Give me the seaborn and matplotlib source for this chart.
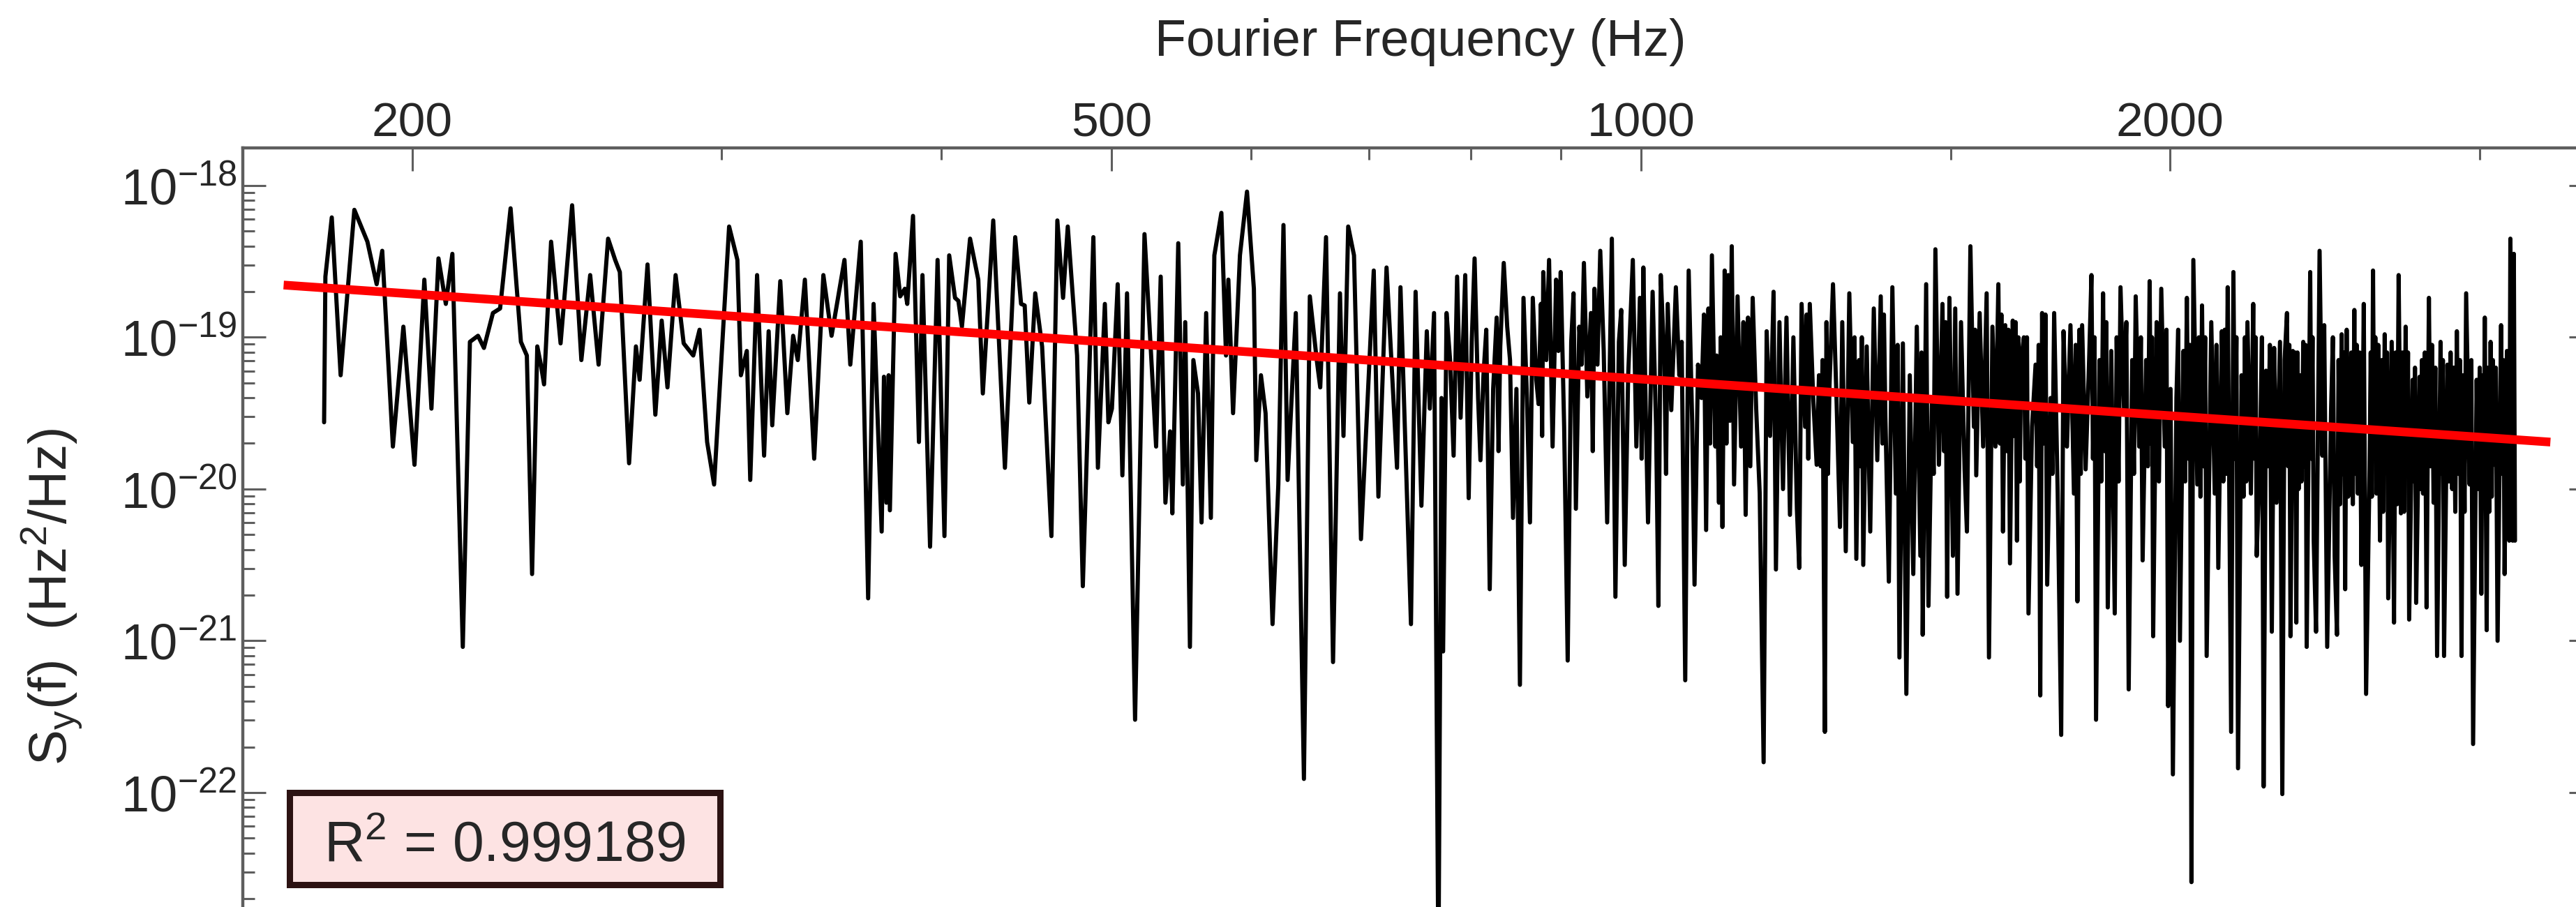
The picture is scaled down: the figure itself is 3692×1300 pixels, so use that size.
import numpy as np
import pandas as pd
import matplotlib
matplotlib.use("Agg")
import matplotlib.pyplot as plt
from matplotlib.patches import Rectangle
from matplotlib.ticker import FixedLocator, FixedFormatter, LogLocator, NullFormatter
import seaborn as sns

# Fourier frequency of each spectrum sample (Hz): resolved peaks and dips
freq_hz = [
    178.2, 178.5, 180.0, 182.1, 185.4, 188.6, 190.9, 192.3, 195.0, 197.7,
    200.6, 203.2, 205.1, 207.0, 209.0, 210.8, 213.7, 215.7, 218.0, 219.7,
    222.3, 224.4, 227.5, 230.6, 232.4, 234.0, 235.6, 236.7, 237.7, 239.9,
    242.9, 246.6, 249.6, 252.5, 255.3,
    258.5, 260.9, 262.5, 265.7, 268.1, 269.4, 272.2, 275.0, 277.3, 279.4,
    282.4, 285.4, 289.0, 291.4, 294.3, 297.0, 302.9, 306.2, 307.6, 310.0,
    311.4, 314.2, 317.1, 319.0, 320.5, 323.9, 326.9, 329.4, 331.4, 334.5,
    338.6, 342.7, 346.4, 352.3, 355.0, 359.9, 363.4, 366.0,
    369.9, 371.0, 372.2, 373.3, 373.9, 376.7, 379.0, 381.3, 382.5, 385.4,
    388.4, 390.2, 394.1, 398.0, 401.6, 404.1, 407.2, 409.0, 410.9, 415.3,
    419.8, 422.3, 428.1, 434.7, 440.6, 444.0, 446.1, 448.8, 452.3, 456.4,
    462.0, 465.6, 469.1, 472.0, 477.8, 481.4, 488.1, 491.0, 495.5, 497.8,
    500.1, 503.9, 507.0, 510.1, 515.5, 521.9,
    529.9, 533.1, 536.4, 539.7, 541.3, 545.5, 548.8, 550.5, 553.9, 556.4,
    559.8, 562.4, 565.8, 569.3, 571.9, 577.2, 580.7, 582.5, 586.1, 591.4,
    596.9, 602.3, 604.2, 607.9, 611.6, 617.2, 621.9, 626.1, 629.5, 636.3,
    643.1, 648.1, 654.0, 657.0, 662.0, 668.1, 674.2, 677.3, 681.5, 686.7,
    693.0, 704.7, 709.0, 716.6, 726.5, 729.8, 739.9, 744.4, 750.1, 755.4,
    758.4, 762.6,
    767.0, 770.1, 771.7, 775.2, 778.8, 782.4, 786.0, 789.6, 794.4, 798.0,
    801.2, 804.2, 807.9, 810.4, 813.6, 816.6, 820.3, 824.0, 827.8, 831.7,
    835.5, 839.3, 842.4, 845.7, 849.5, 853.4, 857.4, 861.3, 864.7, 867.9,
    871.9, 874.5, 877.2, 879.9, 883.4, 886.6, 890.7, 894.8, 897.5, 900.2,
    904.3, 908.5, 912.7, 915.5, 918.3, 922.4, 925.2, 928.0, 932.2, 936.6,
    940.9, 944.6, 948.1, 952.4, 956.7, 962.6, 967.1, 971.5, 974.5, 979.0,
    983.4, 989.4, 994.0, 998.6, 1003.2, 1006.2, 1009.3, 1015.4, 1020.0, 1023.1,
    1026.3, 1031.0, 1035.7, 1040.5, 1046.8, 1051.5, 1054.8, 1059.7, 1064.5, 1069.4,
    1072.7, 1077.6, 1082.5, 1089.1, 1092.4, 1097.4, 1102.4,
    1104.2, 1107.6, 1112.6, 1115.9, 1121.1, 1126.3, 1129.7, 1134.9, 1140.1, 1147.0,
    1150.5, 1157.6, 1162.9, 1168.3, 1174.3, 1179.0, 1184.3, 1189.7, 1193.4, 1198.9,
    1204.5, 1210.0, 1215.5, 1221.0, 1226.6, 1230.4, 1234.2, 1239.9, 1247.5, 1253.1,
    1258.8, 1262.6, 1268.5, 1272.4, 1280.2, 1286.0, 1291.9, 1297.8, 1301.7, 1307.7,
    1313.8, 1319.8, 1325.9, 1330.7, 1338.0, 1344.1, 1350.3, 1356.6, 1362.8, 1369.0,
    1377.4, 1383.6, 1390.0, 1396.4, 1402.9, 1409.3, 1415.7, 1422.1, 1428.6, 1435.2,
    1441.9, 1446.3, 1452.9, 1457.3, 1464.0, 1470.6, 1477.4, 1484.3, 1493.4, 1497.9,
    1504.7, 1509.3, 1513.8, 1520.8, 1527.9, 1532.6, 1539.6, 1546.6, 1551.4, 1558.4,
    1565.5, 1572.7, 1577.5, 1584.7, 1591.0,
    1597.0, 1606.7, 1611.5, 1621.5, 1627.4, 1636.4, 1645.4, 1651.3, 1661.3, 1669.0,
    1676.8, 1687.1, 1691.2, 1702.5, 1710.2, 1718.1, 1726.1, 1734.0, 1739.3, 1747.2,
    1755.2, 1763.2, 1771.3, 1782.2, 1790.4, 1798.6, 1804.1, 1815.0, 1823.3, 1831.8,
    1843.1, 1851.5, 1860.0, 1874.1, 1882.7, 1894.3, 1903.0, 1911.8, 1920.5, 1929.2,
    1938.0, 1947.0, 1956.0, 1964.9, 1976.9, 1985.9, 1994.9, 2001.1, 2007.2, 2016.5,
    2025.8, 2035.0, 2044.3, 2056.6, 2061.7, 2072.5, 2085.3, 2098.0, 2110.7, 2120.3,
    2130.2, 2140.1, 2156.6, 2166.3, 2172.8, 2186.0, 2196.2, 2213.1, 2223.2, 2230.0,
    2240.2, 2250.3, 2260.6, 2267.6, 2284.9, 2291.8,
    2299.1, 2309.5, 2316.5, 2323.5, 2330.7, 2341.5, 2348.6, 2359.4, 2370.2, 2380.9,
    2391.7, 2402.7, 2413.8, 2421.2, 2432.4, 2441.2, 2447.2, 2456.8, 2469.4, 2480.9,
    2488.5, 2503.8, 2515.3, 2530.5, 2545.8, 2557.6, 2569.4, 2577.3, 2585.2, 2597.0,
    2608.8, 2620.7, 2632.7, 2649.0, 2661.2, 2673.4, 2681.5, 2697.8, 2705.9, 2722.7,
    2735.2, 2747.8, 2760.4, 2772.9, 2785.5, 2798.3, 2806.9, 2824.2, 2837.2, 2850.1,
    2863.1, 2876.0, 2893.8, 2911.6, 2929.4, 2947.2, 2960.6, 2974.2, 2988.0, 3006.4,
    3020.1, 3027.5, 3043.1, 3056.9, 3071.1, 3085.2, 3099.4, 3108.8, 3118.3, 3123.0,
    3132.4, 3137.2, 3141.9,
]

# log10 of the one-sided PSD S_y(f) in Hz^2/Hz, one entry per frequency above
psd_log10 = [
    -19.56, -18.60, -18.21, -19.25, -18.16, -18.37, -18.65, -18.43, -19.72, -18.93,
    -19.84, -18.62, -19.47, -18.48, -18.78, -18.45, -21.04, -19.03, -18.99, -19.07,
    -18.84, -18.81, -18.15, -19.03, -19.12, -20.56, -19.06, -19.18, -19.31, -18.37,
    -19.04, -18.13, -19.15, -18.59, -19.18,
    -18.35, -18.49, -18.57, -19.83, -19.06, -19.28, -18.52, -19.51, -18.89, -19.33,
    -18.59, -19.04, -19.12, -18.95, -19.69, -19.97, -18.27, -18.49, -19.25, -19.09,
    -19.94, -18.59, -19.78, -18.96, -19.58, -18.63, -19.50, -18.99, -19.15, -18.62,
    -19.80, -18.59, -18.99, -18.49, -19.18, -18.37, -20.72, -18.78,
    -20.28, -19.26, -20.09, -19.25, -20.14, -18.45, -18.73, -18.68, -18.78, -18.20,
    -19.69, -18.59, -20.38, -18.49, -20.31, -18.46, -18.74, -18.76, -18.93, -18.35,
    -18.62, -19.37, -18.23, -19.86, -18.34, -18.78, -18.79, -19.43, -18.71, -19.06,
    -20.31, -18.23, -18.74, -18.27, -19.12, -20.64, -18.34, -19.86, -18.78, -19.56,
    -19.47, -18.65, -19.91, -18.71, -21.52, -18.32,
    -19.72, -18.60, -20.09, -19.62, -20.16, -18.38, -19.97, -18.90, -21.04, -19.15,
    -19.37, -20.22, -18.84, -20.19, -18.46, -18.18, -19.12, -18.62, -19.50, -18.46,
    -18.04, -18.68, -19.81, -19.25, -19.50, -20.89, -19.97, -18.26, -19.94, -18.84,
    -21.91, -18.73, -19.15, -19.33, -18.34, -21.14, -18.71, -19.65, -18.27, -18.46,
    -20.33, -18.56, -20.05, -18.54, -19.86, -18.67, -20.89, -18.70, -20.11, -18.96,
    -19.47, -18.84,
    -23.20, -19.40, -21.07, -18.84, -19.15, -19.78, -18.60, -19.53, -18.59, -20.06,
    -19.03, -18.48, -19.40, -19.81, -19.25, -18.95, -20.66, -19.34, -18.87, -19.06,
    -18.51, -18.93, -19.15, -20.19, -19.34, -21.29, -18.74, -19.40, -20.22, -18.74,
    -19.28, -19.44, -18.78, -18.57, -19.15, -18.49, -19.72, -18.62, -19.09, -18.57,
    -19.59, -21.13, -19.03, -18.71, -20.13, -18.93, -19.18, -18.51, -19.39, -18.84,
    -18.68, -19.18, -18.43, -19.09, -20.22, -18.35, -20.71, -19.03, -18.82, -20.50,
    -19.25, -18.49, -19.72, -18.74, -18.54, -19.47, -20.22, -18.70, -19.59, -20.77,
    -18.59, -19.15, -18.78, -19.48, -18.67, -19.25, -19.03, -21.26, -18.56, -19.56,
    -20.63, -19.18, -19.40, -20.27, -18.81, -18.46, -19.72,
    -19.12, -20.09, -20.25, -18.56, -18.59, -18.40, -19.97, -18.73, -19.72, -20.17,
    -18.87, -18.74, -19.47, -20.03, -21.80, -18.96, -19.65, -18.70, -20.53, -18.90,
    -20.00, -18.87, -20.17, -19.00, -20.13, -20.52, -18.78, -19.59, -18.78, -19.40,
    -19.84, -19.25, -19.15, -21.60, -19.31, -18.65, -19.40, -20.25, -18.90, -20.41,
    -18.71, -19.69, -20.46, -19.15, -20.50, -19.06, -20.28, -18.81, -19.81, -18.73,
    -19.53, -20.61, -18.67, -20.03, -21.11, -19.04, -21.35, -19.25, -20.56, -18.93,
    -20.44, -20.96, -18.65, -20.77, -19.40, -18.42, -19.84, -18.78, -20.71, -18.74,
    -20.44, -18.81, -20.69, -18.90, -19.87, -20.28, -18.40, -19.59, -19.91, -18.84,
    -19.72, -18.71, -21.11, -18.93, -19.72,
    -18.65, -20.28, -18.92, -20.49, -18.89, -20.34, -19.15, -19.00, -20.82, -19.59,
    -19.18, -21.36, -18.84, -20.63, -19.40, -18.84, -20.03, -21.62, -18.96, -19.72,
    -18.92, -20.03, -20.74, -18.92, -19.87, -19.15, -18.59, -21.52, -19.15, -18.71,
    -20.78, -19.09, -20.82, -18.67, -19.47, -21.32, -19.15, -18.73, -19.72, -20.47,
    -19.15, -18.63, -20.97, -18.90, -18.68, -19.72, -21.43, -19.34, -21.88, -19.40,
    -21.00, -19.09, -18.74, -22.59, -18.49, -19.97, -18.79, -21.10, -18.90, -20.03,
    -20.52, -18.96, -18.67, -21.60, -18.57, -21.84, -19.25, -18.90, -20.03, -18.78,
    -20.44, -19.72, -21.96, -19.22, -20.94, -19.07,
    -20.09, -19.03, -22.01, -19.15, -18.84, -20.97, -19.09, -20.88, -19.25, -19.03,
    -21.04, -18.57, -20.34, -20.94, -18.43, -19.78, -18.92, -21.04, -19.47, -20.44,
    -20.96, -18.98, -20.66, -19.72, -18.82, -20.03, -20.50, -18.78, -21.35, -19.87,
    -18.56, -20.03, -20.34, -18.98, -20.72, -19.03, -20.88, -18.59, -20.16, -18.93,
    -20.86, -19.28, -20.75, -19.26, -20.03, -20.78, -18.74, -20.09, -21.10, -19.03,
    -21.10, -19.18, -20.00, -18.96, -21.10, -18.71, -19.97, -21.68, -19.28, -20.69,
    -18.87, -20.93, -19.03, -19.84, -21.00, -18.92, -20.56, -19.09, -20.34, -18.35,
    -20.34, -18.45, -20.34,
]

# Fine-scale wiggles inside the dense high-frequency band (Hz, log10 PSD)
fine_freq_hz = [
    829.8, 878.6, 938.8, 1000.9, 1033.4, 1086.0, 1094.9,
    1110.1, 1118.5, 1123.7, 1143.6, 1154.0, 1242.4, 1245.0, 1265.5, 1275.0, 1277.6,
    1322.8, 1333.1, 1335.5, 1372.0, 1374.7, 1399.6, 1444.1, 1467.3, 1487.3, 1490.3,
    1549.0,
    1600.2, 1603.4, 1614.8, 1618.1, 1630.4, 1633.4, 1639.4, 1642.4, 1654.6, 1658.0,
    1680.2, 1683.6, 1695.0, 1698.7, 1714.2, 1767.3, 1775.9, 1779.0, 1807.7, 1811.4,
    1827.5, 1835.6, 1839.4, 1864.7, 1869.4, 1888.5, 1907.4, 1924.8, 1942.5, 1950.0,
    1953.0, 1970.9, 1990.4, 2021.2, 2039.7, 2048.4, 2052.5, 2076.8, 2081.1, 2089.5,
    2093.8, 2125.2, 2144.2, 2148.3, 2152.5, 2176.9, 2181.4, 2201.8, 2205.9, 2209.6,
    2233.4, 2236.8, 2255.4, 2273.4, 2279.1,
    2334.3, 2337.9, 2352.2, 2355.8, 2363.0, 2366.6, 2375.5, 2384.5, 2388.1, 2406.4,
    2410.1, 2475.2, 2493.6, 2498.7, 2507.6, 2511.5, 2520.4, 2525.4, 2535.6, 2540.7,
    2549.7, 2553.6, 2563.5, 2600.9, 2604.9, 2612.8, 2616.7, 2626.7, 2638.1, 2643.5,
    2653.1, 2657.1, 2686.9, 2692.3, 2711.5, 2717.1, 2726.9, 2731.1, 2752.0, 2756.2,
    2777.1, 2781.3, 2791.9, 2812.7, 2818.4, 2830.7, 2854.4, 2858.8, 2881.9, 2887.9,
    2899.7, 2905.6, 2917.5, 2923.4, 2935.3, 2941.2, 2967.4, 2994.1, 3000.2, 3011.0,
    3015.5, 3032.7, 3037.9, 3047.7, 3052.3, 3064.0, 3089.9, 3094.6,
]
fine_psd_log10 = [
    -19.75, -19.65, -19.75, -19.80, -19.90, -18.85, -19.70,
    -19.00, -19.70, -19.55, -18.90, -19.85, -18.85, -19.80, -19.85, -18.90, -19.90,
    -19.00, -19.85, -19.00, -19.70, -18.85, -19.05, -19.10, -19.90, -19.75, -18.90,
    -18.95,
    -19.70, -18.85, -19.75, -18.95, -19.65, -18.90, -19.00, -19.95, -19.80, -19.00,
    -19.85, -19.05, -19.70, -18.85, -19.90, -19.05, -18.95, -19.90, -19.80, -19.00,
    -19.95, -19.75, -18.90, -19.00, -19.95, -18.90, -19.90, -19.00, -19.85, -19.70,
    -19.00, -19.95, -18.95, -18.95, -19.95, -19.80, -19.05, -19.00, -20.05, -19.85,
    -19.00, -19.05, -19.95, -18.95, -19.90, -19.80, -19.00, -20.05, -19.00, -19.95,
    -19.80, -19.00, -19.00, -19.85, -19.05,
    -19.85, -19.05, -19.90, -19.10, -19.10, -20.00, -19.95, -19.85, -19.05, -19.80,
    -19.00, -19.00, -19.15, -20.10, -19.90, -19.10, -18.95, -20.05, -19.10, -20.10,
    -19.90, -19.05, -19.10, -19.10, -20.05, -19.80, -19.00, -19.05, -19.15, -20.15,
    -19.85, -19.10, -19.10, -20.10, -19.10, -20.15, -19.85, -19.10, -19.95, -19.20,
    -20.00, -19.15, -19.10, -19.85, -19.05, -19.20, -19.90, -19.15, -19.95, -19.10,
    -19.20, -20.15, -19.90, -19.15, -19.25, -20.15, -19.15, -20.00, -19.20, -19.25,
    -20.10, -19.20, -20.15, -20.05, -19.15, -19.20, -19.90, -19.15,
]

# Power-law fit drawn across the band (end points of the straight log-log line)
fit_freq_hz = [169.0, 3291.0]
fit_psd = [2.21e-19, 2.04e-20]
r_squared_text = "0.999189"

# Axis ticks
major_freq_ticks = [200, 500, 1000, 2000]
major_freq_labels = ["200", "500", "1000", "2000"]
minor_freq_ticks = [300, 400, 600, 700, 800, 900, 1500, 3000]
psd_decades = [-22, -21, -20, -19, -18]

sns.set_style("white")
plt.rcParams["font.family"] = ["Liberation Sans", "DejaVu Sans"]
plt.rcParams["mathtext.fontset"] = "custom"
plt.rcParams["mathtext.rm"] = "Liberation Sans"
plt.rcParams["mathtext.it"] = "Liberation Sans:italic"
plt.rcParams["mathtext.bf"] = "Liberation Sans:bold"

W, H = 3692, 1300
fig = plt.figure(figsize=(W / 100, H / 100), dpi=100)
fig.patch.set_facecolor("white")
ax = fig.add_axes([348 / W, 0.0, (3715 - 348) / W, (H - 212) / H])
ax.set_facecolor("white")

spectrum = pd.concat([
    pd.DataFrame({"freq": freq_hz, "logpsd": psd_log10}),
    pd.DataFrame({"freq": fine_freq_hz, "logpsd": fine_psd_log10}),
]).sort_values("freq").reset_index(drop=True)
spectrum["psd"] = 10.0 ** spectrum["logpsd"]
fit = pd.DataFrame({"freq": fit_freq_hz, "psd": fit_psd})

sns.lineplot(data=spectrum, x="freq", y="psd", ax=ax, color="black",
             linewidth=4.3, estimator=None, sort=False, zorder=2,
             solid_joinstyle="round")
sns.lineplot(data=fit, x="freq", y="psd", ax=ax, color="#ff0000",
             linewidth=9.0, estimator=None, sort=False, zorder=3,
             solid_capstyle="butt")

ax.set_xscale("log")
ax.set_yscale("log")
ax.set_xlim(160.2, 3475.6)
ax.set_ylim(10 ** -22.754, 10 ** -17.752)

frame_color = "#5e5e5e"
for side in ("top", "left", "right"):
    ax.spines[side].set_visible(True)
    ax.spines[side].set_color(frame_color)
    ax.spines[side].set_linewidth(3.2)
ax.spines["bottom"].set_visible(False)

# frequency axis on top
ax.xaxis.tick_top()
ax.xaxis.set_major_locator(FixedLocator(major_freq_ticks))
ax.xaxis.set_major_formatter(FixedFormatter(major_freq_labels))
ax.xaxis.set_minor_locator(FixedLocator(minor_freq_ticks))
ax.xaxis.set_minor_formatter(NullFormatter())
ax.tick_params(axis="x", which="both", direction="in", top=True, bottom=False,
               labeltop=True, labelbottom=False, color=frame_color, width=2.2)
ax.tick_params(axis="x", which="major", length=24, pad=2, labelsize=50)
ax.tick_params(axis="x", which="minor", length=12)

# PSD axis
ax.yaxis.set_major_locator(FixedLocator([10.0 ** d for d in psd_decades]))
ax.yaxis.set_major_formatter(FixedFormatter(
    [r"$\mathregular{10^{%d}}$" % d for d in psd_decades]))
ax.yaxis.set_minor_locator(LogLocator(base=10, subs=np.arange(2, 10), numticks=60))
ax.yaxis.set_minor_formatter(NullFormatter())
ax.tick_params(axis="y", which="both", direction="in", left=True, right=True,
               labelleft=True, labelright=False, color=frame_color, width=2.2)
ax.tick_params(axis="y", which="major", length=24, pad=6, labelsize=52)
ax.tick_params(axis="y", which="minor", length=12)

ax.set_xlabel("Fourier Frequency (Hz)", fontsize=53)
ax.xaxis.set_label_position("top")
ax.xaxis.set_label_coords(0.5013, 1.1213)
ax.xaxis.label.set_verticalalignment("baseline")
ax.set_ylabel("")

fig.text(75 / W, 1 - 855 / H, r"$\mathregular{S_y(f)\ \ (Hz^2/Hz)}$",
         rotation=90, ha="center", va="center", fontsize=55)

# goodness-of-fit box
box = Rectangle((414.5 / W, 1 - 1267.5 / H), (1031.5 - 414.5) / W, (1267.5 - 1135.5) / H,
                transform=fig.transFigure, facecolor="#fde3e3", edgecolor="#2c1212",
                linewidth=6.5, zorder=5)
fig.add_artist(box)
fig.text(723 / W, 1 - 1234 / H, r"$\mathregular{R^2}$ = " + r_squared_text,
         ha="center", va="baseline", fontsize=58, zorder=6)

fig.savefig("out.png", dpi=100, facecolor="white")
